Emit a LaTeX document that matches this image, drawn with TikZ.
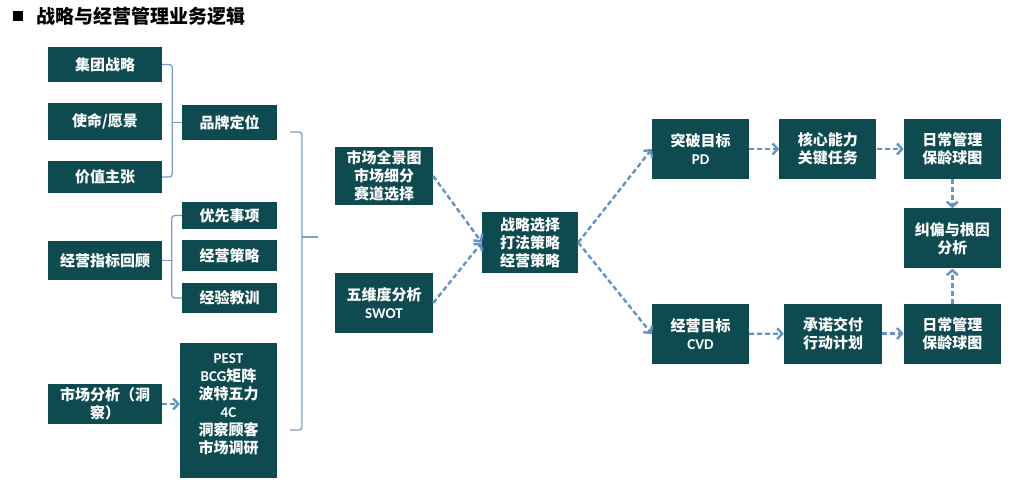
\documentclass[tikz,border=0pt]{standalone}
\usepackage{fontspec}
\setmainfont{Noto Sans CJK SC}
\newfontfamily\lat{Carlito}[BoldFont={Carlito Bold}]
\usepackage{xcolor}
\usetikzlibrary{arrows.meta,positioning,calc}
\definecolor{BoxTeal}{HTML}{0E4B51}
\definecolor{FlowBlue}{HTML}{6592C4}
\definecolor{BraceBlue}{HTML}{7D9DCB}

\begin{document}
\begin{tikzpicture}[
	x=1pt, y=-1pt,
	box/.style={fill=BoxTeal, text=white, align=center, inner sep=0pt, font=\fontsize{15}{18}\selectfont\bfseries, minimum width=97pt, minimum height=60pt},
	wide/.style={box, minimum width=114pt, minimum height=35pt},
	small/.style={box, minimum width=95pt, minimum height=30pt},
	arrow/.style={-{Straight Barb[length=5pt,width=11pt]}, dash pattern=on 5pt off 3pt, line width=2.4pt, FlowBlue},
	brace/.style={BraceBlue, line width=1.3pt, rounded corners=3pt}
]
\useasboundingbox (0,0) rectangle (1014,500);

% title
\node[fill=black, minimum size=10pt, inner sep=0pt] (bullet) at (18,16) {};
\node[anchor=west, inner sep=0pt, font=\fontsize{19}{22}\selectfont\bfseries] (title) at (36,16) {战略与经营管理业务逻辑};

% left column
\node[wide] (group) at (105,64.5) {集团战略};
\node[wide, minimum height=37pt] (mission) at (105,121.5) {使命/愿景};
\node[wide, minimum height=32pt] (value) at (105,177) {价值主张};
\node[small, minimum height=35pt] (brand) at (229.5,122.5) {品牌定位};
\node[wide, minimum height=39pt] (review) at (105,260.5) {经营指标回顾};
\node[small, minimum height=27pt] (priority) at (229.5,215.5) {优先事项};
\node[small, minimum height=31pt] (tactics) at (229.5,255.5) {经营策略};
\node[small] (lessons) at (229.5,298) {经验教训};
\node[wide, minimum height=40pt] (market) at (105,404) {市场分析（洞\\察）};
\node[box, minimum height=135pt] (tools) at (228.5,410.5) {{\lat\bfseries PEST}\\{\lat\bfseries BCG}矩阵\\波特五力\\{\lat\bfseries 4C}\\洞察顾客\\市场调研\\[-4pt]\mbox{}};

% middle
\node[box, minimum width=98pt, minimum height=58pt] (panorama) at (384,176) {市场全景图\\市场细分\\赛道选择};
\node[box, minimum width=98pt] (swot) at (384,303) {五维度分析\\{\lat\bfseries SWOT}};
\node[box, minimum width=96pt, minimum height=61pt] (choice) at (530,242.5) {战略选择\\打法策略\\经营策略};

% right
\node[box] (pd) at (700.5,149) {突破目标\\{\lat\bfseries PD}};
\node[box, right=30pt of pd] (core) {核心能力\\关键任务};
\node[box, right=27pt of core] (dailytop) {日常管理\\保龄球图};
\node[box, below=29pt of dailytop] (rootcause) {纠偏与根因\\分析};
\node[box, below=35pt of rootcause] (dailybot) {日常管理\\保龄球图};
\node[box] (cvd) at (700.5,334) {经营目标\\{\lat\bfseries CVD}};
\node[box, minimum width=98pt] (commit) at (833,333.5) {承诺交付\\行动计划};

% brackets
\draw[brace] (group.east) -- ++(10,0) coordinate (braceA) |- (value.east);
\draw[brace] (brand.west) -- (brand.west -| braceA);
\draw[brace] (priority.west) -- ++(-10,0) coordinate (braceB) |- (lessons.west);
\draw[brace] (review.east) -- (review.east -| braceB);
\coordinate (allTop) at (290,132);
\coordinate (allBot) at (290,430);
\coordinate (allMid) at (318,237);
\draw[brace] (allTop) -- ++(12,0) |- (allBot);
\draw[brace] (allMid) -- ++(-16,0);

% flow
\draw[arrow] (market.east) -- (market.east -| tools.west);
\draw[arrow] (panorama.east) -- (choice.west);
\draw[arrow] (swot.east) -- (choice.west);
\draw[arrow] (choice.east) -- (pd.west);
\draw[arrow] (choice.east) -- (cvd.west);
\draw[arrow] (pd) -- (core);
\draw[arrow] (core) -- (dailytop);
\draw[arrow] (dailytop) -- (rootcause);
\draw[arrow] (cvd) -- (commit);
\draw[arrow] (commit.east) -- (commit.east -| dailybot.west);
\draw[arrow] (dailybot) -- (rootcause);
\end{tikzpicture}
\end{document}
